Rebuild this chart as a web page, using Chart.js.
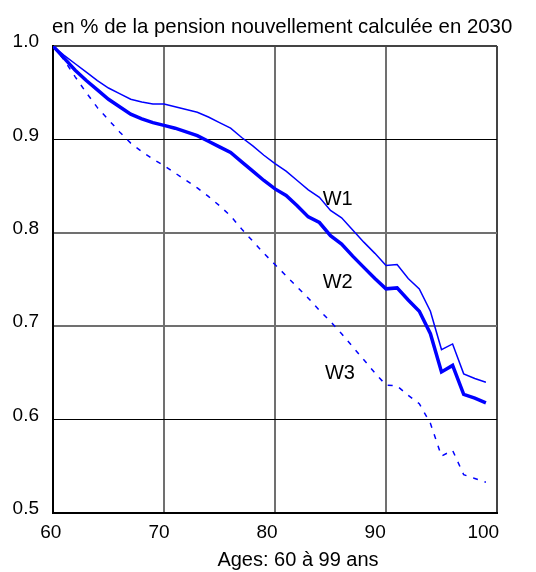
<!DOCTYPE html>
<html>
<head>
<meta charset="utf-8">
<script src="https://cdn.jsdelivr.net/npm/chart.js@4.4.1/dist/chart.umd.min.js"></script>
<style>
  html, body { margin: 0; padding: 0; background: #fff; }
  #wrap { width: 536px; height: 572px; position: relative; }
</style>
</head>
<body>
<div id="wrap"><canvas id="chart"></canvas></div>
<script>
const ages = [60, 61, 62, 63, 64, 65, 66, 67, 68, 69,
              70, 71, 72, 73, 74, 75, 76, 77, 78, 79,
              80, 81, 82, 83, 84, 85, 86, 87, 88, 89,
              90, 91, 92, 93, 94, 95, 96, 97, 98, 99];

const w1 = [1.000, 0.990, 0.981, 0.972, 0.963, 0.955, 0.949, 0.943, 0.940, 0.938,
            0.938, 0.935, 0.932, 0.929, 0.924, 0.918, 0.912, 0.902, 0.893, 0.883,
            0.874, 0.866, 0.856, 0.846, 0.838, 0.824, 0.816, 0.803, 0.790, 0.778,
            0.765, 0.766, 0.751, 0.740, 0.716, 0.675, 0.681, 0.649, 0.644, 0.640];

const w2 = [1.000, 0.987, 0.974, 0.963, 0.953, 0.943, 0.935, 0.927, 0.922, 0.918,
            0.915, 0.912, 0.908, 0.904, 0.898, 0.892, 0.886, 0.876, 0.866, 0.856,
            0.847, 0.840, 0.829, 0.817, 0.811, 0.797, 0.788, 0.775, 0.763, 0.751,
            0.740, 0.741, 0.728, 0.716, 0.692, 0.651, 0.658, 0.627, 0.623, 0.618];

const w3 = [1.000, 0.985, 0.967, 0.950, 0.934, 0.921, 0.908, 0.896, 0.887, 0.879,
            0.872, 0.864, 0.856, 0.848, 0.839, 0.829, 0.818, 0.804, 0.791, 0.778,
            0.766, 0.754, 0.742, 0.730, 0.717, 0.705, 0.692, 0.678, 0.664, 0.650,
            0.637, 0.636, 0.626, 0.617, 0.596, 0.561, 0.567, 0.541, 0.537, 0.533];

const xTicks = [60, 70, 80, 90, 100];
const yTicks = [0.5, 0.6, 0.7, 0.8, 0.9, 1.0];

const titleText = "en % de la pension nouvellement calculée en 2030";
const xTitle = "Ages: 60 à 99 ans";
// series labels: [text, age, value] where the label sits
const seriesLabels = [["W1", 84.3, 0.830], ["W2", 84.3, 0.741], ["W3", 84.5, 0.6435]];

const FONT = '"Liberation Sans", Arial, Helvetica, sans-serif';
const BLUE = "#0000ff";

const pts = (vals) => ages.map((a, i) => ({ x: a, y: vals[i] }));
const near = (a, b) => Math.abs(a - b) < 1e-6;

// titles and W1/W2/W3 labels
const textPlugin = {
  id: "texts",
  afterDraw(chart) {
    const { ctx, chartArea } = chart;
    const x = chart.scales.x, y = chart.scales.y;
    ctx.save();
    ctx.fillStyle = "#000";
    ctx.textBaseline = "alphabetic";
    ctx.textAlign = "left";
    ctx.font = "20.4px " + FONT;
    ctx.fillText(titleText, chartArea.left - 1, 33);
    ctx.font = "20px " + FONT;
    seriesLabels.forEach(([t, a, v]) => {
      ctx.fillText(t, x.getPixelForValue(a), y.getPixelForValue(v));
    });
    ctx.textAlign = "center";
    ctx.fillText(xTitle, chartArea.left + 245, 566);
    ctx.restore();
  }
};

new Chart(document.getElementById("chart"), {
  type: "line",
  data: {
    datasets: [
      { label: "W1", data: pts(w1), borderColor: BLUE, borderWidth: 1.5 },
      { label: "W2", data: pts(w2), borderColor: BLUE, borderWidth: 3.5 },
      { label: "W3", data: pts(w3), borderColor: BLUE, borderWidth: 1.5, borderDash: [5, 7] }
    ]
  },
  options: {
    responsive: true,
    maintainAspectRatio: false,
    animation: false,
    layout: { padding: { top: 46, right: 39, left: 0, bottom: 0 } },
    elements: { point: { radius: 0 }, line: { tension: 0 } },
    plugins: { legend: { display: false }, tooltip: { enabled: false } },
    scales: {
      x: {
        type: "linear",
        position: "bottom",
        weight: 0,
        min: 60,
        max: 100,
        afterBuildTicks: (s) => { s.ticks = xTicks.map((v) => ({ value: v })); },
        afterFit: (s) => { s.height = 0; },
        ticks: { display: false },
        grid: {
          drawTicks: false,
          color: (c) => near(c.tick.value, 60) ? "rgba(0,0,0,0)" : near(c.tick.value, 100) ? "#444" : "#707070",
          lineWidth: 2
        },
        border: { color: "#000", width: 2 }
      },
      // label axis: the reference's tick labels sit slightly left of the grid lines
      x2: {
        type: "linear",
        position: "bottom",
        weight: 1,
        min: 60.2,
        max: 101.27,
        afterBuildTicks: (s) => { s.ticks = xTicks.map((v) => ({ value: v })); },
        afterFit: (s) => { s.height = 59; },
        grid: { display: false, drawTicks: false },
        border: { display: false },
        ticks: { color: "#000", padding: 8, maxRotation: 0, autoSkip: false, font: { family: FONT, size: 19 } }
      },
      y: {
        type: "linear",
        min: 0.5,
        max: 1.0,
        afterBuildTicks: (s) => { s.ticks = yTicks.map((v) => ({ value: v })); },
        afterFit: (s) => { s.width = 53; },
        ticks: {
          color: "#000",
          padding: 14,
          labelOffset: -4,
          font: { family: FONT, size: 19 },
          callback: (v) => Number(v).toFixed(1)
        },
        grid: {
          drawTicks: false,
          color: (c) => {
            const v = c.tick.value;
            if (near(v, 0.5)) return "rgba(0,0,0,0)";
            if (near(v, 1.0)) return "#444";
            if (near(v, 0.9) || near(v, 0.6)) return "#000";
            return "#707070";
          },
          lineWidth: (c) => (near(c.tick.value, 0.9) || near(c.tick.value, 0.6)) ? 1 : 2
        },
        border: { color: "#000", width: 2 }
      }
    }
  },
  plugins: [textPlugin]
});
</script>
</body>
</html>
